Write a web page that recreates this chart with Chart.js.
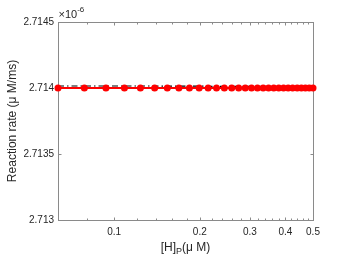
<!DOCTYPE html>
<html>
<head>
<meta charset="utf-8">
<script src="https://cdn.jsdelivr.net/npm/chart.js@4/dist/chart.umd.min.js"></script>
<style>
  html, body { margin: 0; padding: 0; background: #fff; }
  #wrap { width: 346px; height: 260px; }
</style>
</head>
<body>
<div id="wrap"><canvas id="chart-rate"></canvas></div>
<script>
// [H]_P values (uM)
const h_p = [0.0635, 0.0786, 0.0936, 0.1087, 0.1237, 0.1388, 0.1538, 0.1689, 0.1839, 0.199,
             0.214, 0.229, 0.244, 0.259, 0.274, 0.289, 0.304, 0.319, 0.334, 0.349,
             0.364, 0.379, 0.394, 0.409, 0.424, 0.440, 0.455, 0.470, 0.485, 0.500]
// reaction rate, x1e-6 uM/ms
const rate_sim = [2.714, 2.714, 2.714, 2.714, 2.714, 2.714, 2.714, 2.714, 2.714, 2.714,
                  2.714, 2.714, 2.714, 2.714, 2.714, 2.714, 2.714, 2.714, 2.714, 2.714,
                  2.714, 2.714, 2.714, 2.714, 2.714, 2.714, 2.714, 2.714, 2.714, 2.714]
const rate_approx = [2.714015, 2.714015, 2.714015, 2.714015, 2.714015, 2.714015, 2.714014, 2.714014, 2.714014, 2.714014,
                     2.714013, 2.714013, 2.714013, 2.714013, 2.714013, 2.714012, 2.714012, 2.714012, 2.714012, 2.714012,
                     2.714011, 2.714011, 2.714011, 2.714011, 2.714011, 2.714010, 2.714010, 2.714010, 2.714010, 2.714010]

const x_ticks = [0.1, 0.2, 0.3, 0.4, 0.5]
const x_minor = [0.08, 0.12, 0.14, 0.16, 0.18, 0.22, 0.24, 0.26, 0.28, 0.32, 0.34, 0.36, 0.38, 0.42, 0.44, 0.46, 0.48]
const y_ticks = [2.713, 2.7135, 2.714, 2.7145]

const FONT = 'Helvetica, "Liberation Sans", Arial, sans-serif'
const TEXT = '#262626'
const AXIS = '#8a8a8a'

// matlab style box with inward ticks, exponent and x label with subscript
const matlab_axes = {
  id: 'matlab_axes',
  beforeDatasetsDraw(chart){
    const ctx = chart.ctx
    const a = chart.chartArea
    const xs = chart.scales.x
    const ys = chart.scales.y
    const l = Math.round(a.left) + 0.5, r = Math.round(a.right) + 0.5
    const t = Math.round(a.top) + 0.5, b = Math.round(a.bottom) + 0.5
    ctx.save()
    ctx.strokeStyle = AXIS
    ctx.lineWidth = 1
    ctx.strokeRect(l, t, r - l, b - t)
    ctx.beginPath()
    const xt = (v, len) => {
      const p = Math.round(xs.getPixelForValue(v)) + 0.5
      ctx.moveTo(p, b); ctx.lineTo(p, b - len)
      ctx.moveTo(p, t); ctx.lineTo(p, t + len)
    }
    x_ticks.forEach(v => xt(v, 3))
    x_minor.forEach(v => xt(v, 2))
    y_ticks.forEach(v => {
      const p = Math.round(ys.getPixelForValue(v)) + 0.5
      ctx.moveTo(l, p); ctx.lineTo(l + 3, p)
      ctx.moveTo(r, p); ctx.lineTo(r - 3, p)
    })
    ctx.stroke()

    ctx.fillStyle = TEXT
    ctx.textBaseline = 'alphabetic'
    ctx.textAlign = 'left'
    ctx.font = '11px ' + FONT
    ctx.fillText('\u00d710', l, t - 5)
    let w = ctx.measureText('\u00d710').width
    ctx.font = '8px ' + FONT
    ctx.fillText('-6', l + w, t - 11)

    // x label: [H]_P(\mu M)
    const parts = [['[H]', 12, 0], ['P', 9, 3], ['(\u03bc M)', 12, 0]]
    let total = 0
    parts.forEach(p => { ctx.font = p[1] + 'px ' + FONT; total += ctx.measureText(p[0]).width })
    let x = (a.left + a.right) / 2 - total / 2
    const base = 251
    parts.forEach(p => {
      ctx.font = p[1] + 'px ' + FONT
      ctx.fillText(p[0], x, base + p[2])
      x += ctx.measureText(p[0]).width
    })
    ctx.restore()
  }
}

function make_chart(){
  const canvas = document.getElementById('chart-rate')
  return new Chart(canvas, {
    type: 'line',
    data: {
      datasets: [
        {
          label: 'simulation',
          data: h_p.map((x, i) => ({x: x, y: rate_sim[i]})),
          borderColor: '#ff0000',
          backgroundColor: '#ff0000',
          borderWidth: 2,
          pointRadius: 3.5,
          pointBorderWidth: 0,
          clip: false,
          order: 0,
        },
        {
          label: 'approximation',
          data: h_p.map((x, i) => ({x: x, y: rate_approx[i]})),
          borderColor: '#000000',
          borderWidth: 1.2,
          borderDash: [6, 3, 1.5, 3],
          pointRadius: 0,
          order: 1,
        },
      ]
    },
    options: {
      responsive: true,
      maintainAspectRatio: false,
      animation: false,
      layout: { padding: { top: 22, right: 33, left: 0, bottom: 0 } },
      plugins: {
        legend: { display: false },
        tooltip: { enabled: false },
      },
      scales: {
        x: {
          type: 'logarithmic',
          min: h_p[0],
          max: 0.5,
          grid: { display: false, drawTicks: false },
          border: { display: false },
          afterBuildTicks: s => { s.ticks = x_ticks.map(v => ({value: v})) },
          afterFit: s => { s.height = 40 },
          ticks: {
            color: TEXT,
            font: { family: FONT, size: 10 },
            padding: 6,
            maxRotation: 0,
            autoSkip: false,
            callback: v => String(v),
          },
        },
        y: {
          type: 'linear',
          min: 2.713,
          max: 2.7145,
          grid: { display: false, drawTicks: false },
          border: { display: false },
          afterBuildTicks: s => { s.ticks = y_ticks.map(v => ({value: v})) },
          afterFit: s => { s.width = 58 },
          ticks: {
            color: TEXT,
            font: { family: FONT, size: 10 },
            padding: 4,
            callback: v => String(y_ticks.find(t => Math.abs(t - v) < 1e-9)),
          },
          title: {
            display: true,
            text: 'Reaction rate (\u03bc M/ms)',
            color: TEXT,
            font: { family: FONT, size: 12 },
            padding: { top: 5, bottom: 0 },
          },
        },
      },
    },
    plugins: [matlab_axes],
  })
}

let chart = make_chart()
</script>
</body>
</html>
